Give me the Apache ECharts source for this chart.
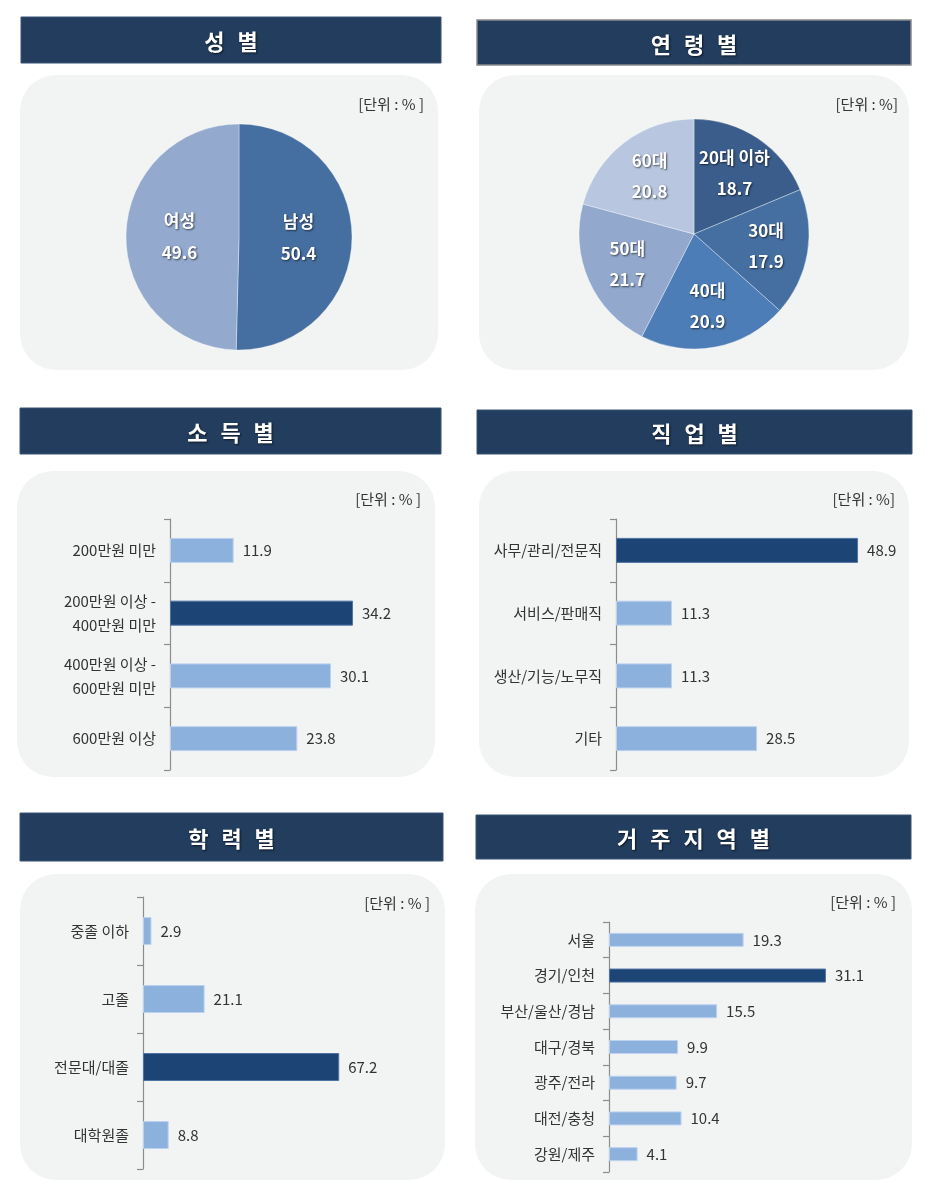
<!DOCTYPE html>
<html>
<head>
<meta charset="utf-8">
<script src="https://cdn.jsdelivr.net/npm/echarts@6/dist/echarts.min.js"></script>
<style>
html,body{margin:0;padding:0;background:#fff;}
#c{width:944px;height:1187px;}
</style>
</head>
<body>
<div id="c"></div>
<script>
// ---- data ----
const titleTexts = ['성 별', '연 령 별', '소 득 별', '직 업 별', '학 력 별', '거 주 지 역 별'];
const unitText = '[단위 : % ]';
const unitTextB = '[단위 : %]';

const genderCats = ['남성', '여성'];
const genderVals = [50.4, 49.6];

const ageCats = ['20대 이하', '30대', '40대', '50대', '60대'];
const ageVals = [18.7, 17.9, 20.9, 21.7, 20.8];

const incomeCats = ['200만원 미만', '200만원 이상 -\n400만원 미만', '400만원 이상 -\n600만원 미만', '600만원 이상'];
const incomeVals = [11.9, 34.2, 30.1, 23.8];

const jobCats = ['사무/관리/전문직', '서비스/판매직', '생산/기능/노무직', '기타'];
const jobVals = [48.9, 11.3, 11.3, 28.5];

const eduCats = ['중졸 이하', '고졸', '전문대/대졸', '대학원졸'];
const eduVals = [2.9, 21.1, 67.2, 8.8];

const regionCats = ['서울', '경기/인천', '부산/울산/경남', '대구/경북', '광주/전라', '대전/충청', '강원/제주'];
const regionVals = [19.3, 31.1, 15.5, 9.9, 9.7, 10.4, 4.1];

// ---- styles / layout ----
const FONT = "'Noto Sans CJK KR', 'Noto Sans', sans-serif";
const HEADER = '#223d5e';
const PANEL = '#f2f4f4';
const DARK = '#1c4576';
const LIGHT = '#8db1dd';

const headers = [
  {x: 21, y: 17, w: 420, h: 46},
  {x: 477, y: 20, w: 434, h: 45, stroke: '#8a8a8a'},
  {x: 20, y: 408, w: 421, h: 46},
  {x: 477, y: 410, w: 435, h: 44},
  {x: 20, y: 813, w: 423, h: 48},
  {x: 476, y: 815, w: 435, h: 44}
];
const panels = [
  {x: 20, y: 75, w: 418, h: 295},
  {x: 479, y: 75, w: 430, h: 295},
  {x: 17, y: 471, w: 418, h: 306},
  {x: 479, y: 471, w: 430, h: 306},
  {x: 20, y: 874, w: 425, h: 306},
  {x: 475, y: 874, w: 437, h: 306}
];
const units = [
  {x: 424, y: 104, t: unitText},
  {x: 898, y: 104, t: unitTextB},
  {x: 421, y: 499, t: unitText},
  {x: 895, y: 499, t: unitTextB},
  {x: 430, y: 903, t: unitText},
  {x: 896, y: 902, t: unitText}
];

const graphics = [];
panels.forEach(p => graphics.push({
  type: 'rect', z: -10, silent: true,
  shape: {x: p.x, y: p.y, width: p.w, height: p.h, r: 36},
  style: {fill: PANEL}
}));
headers.forEach((h, i) => {
  graphics.push({
    type: 'rect', z: -10, silent: true,
    shape: {x: h.x, y: h.y, width: h.w, height: h.h},
    style: {fill: HEADER, stroke: h.stroke || '#3b5577', lineWidth: h.stroke ? 1.5 : 1}
  });
  const chars = titleTexts[i].split(' ');
  graphics.push({
    type: 'text', z: 50, silent: true,
    x: h.x + h.w / 2, y: h.y + h.h / 2 + 2,
    style: {
      text: chars.map(c => '{h|' + c + '}').join(''),
      align: 'center', verticalAlign: 'middle',
      fill: '#fff',
      rich: {h: {fontSize: 22, fontWeight: 'bold', fontFamily: FONT, fill: '#fff', padding: [0, 6.5],
        textShadowColor: 'rgba(0,0,0,0.65)', textShadowBlur: 2, textShadowOffsetX: 1, textShadowOffsetY: 1}}
    }
  });
});
units.forEach(u => graphics.push({
  type: 'text', z: 50, silent: true, x: u.x, y: u.y,
  style: {text: u.t, align: 'right', verticalAlign: 'middle', fontSize: 15, fontFamily: FONT, fill: '#333'}
}));

// ---- bar charts ----
const bars = [
  {cats: incomeCats, vals: incomeVals, left: 170, top: 519, width: 214, height: 251, max: 40, bw: 25},
  {cats: jobCats, vals: jobVals, left: 616, top: 519, width: 247.5, height: 251, max: 50, bw: 25},
  {cats: eduCats, vals: eduVals, left: 143, top: 897, width: 233.6, height: 272, max: 80, bw: 28},
  {cats: regionCats, vals: regionVals, left: 609, top: 922, width: 279, height: 250, max: 40, bw: 14}
];

const grid = [], xAxis = [], yAxis = [], series = [];
bars.forEach((b, i) => {
  grid.push({left: b.left, top: b.top, width: b.width, height: b.height, containLabel: false});
  xAxis.push({gridIndex: i, type: 'value', min: 0, max: b.max, show: false});
  yAxis.push({
    gridIndex: i, type: 'category', data: b.cats, inverse: true,
    axisLine: {show: true, lineStyle: {color: '#8c8c8c', width: 1.2}},
    axisTick: {show: true, length: 6, lineStyle: {color: '#8c8c8c', width: 1.2}},
    axisLabel: {margin: 14, fontSize: 15, color: '#333', fontFamily: FONT, lineHeight: 24},
    splitLine: {show: false}
  });
  const mx = Math.max(...b.vals);
  series.push({
    type: 'bar', xAxisIndex: i, yAxisIndex: i, barWidth: b.bw,
    data: b.vals.map(v => ({
      value: v,
      itemStyle: v === mx
        ? {color: DARK, borderColor: '#4f74a3', borderWidth: 1}
        : {color: LIGHT, borderColor: '#bcd2ee', borderWidth: 1}
    })),
    label: {show: true, position: 'right', distance: 9, fontSize: 15, color: '#333', fontFamily: FONT,
      formatter: p => p.value.toFixed(1)}
  });
});

// ---- pies ----
const pieLabel = {
  show: true, position: 'inside', color: '#fff', fontSize: 17, fontWeight: 'bold', fontFamily: FONT,
  lineHeight: 31, textShadowColor: 'rgba(0,0,0,0.6)', textShadowBlur: 2, textShadowOffsetX: 1, textShadowOffsetY: 1,
  textBorderWidth: 0,
  formatter: p => p.name + '\n' + p.value.toFixed(1)
};
const genderColors = ['#466fa1', '#93a9cd'];
const ageColors = ['#3a5d8b', '#466fa1', '#4c7db6', '#92a8cd', '#b8c6df'];

series.push({
  type: 'pie', center: [239, 237], radius: [0, 113], startAngle: 90, clockwise: true,
  silent: true, emphasis: {disabled: true},
  itemStyle: {borderColor: 'rgba(255,255,255,0.35)', borderWidth: 1},
  label: Object.assign({}, pieLabel, {lineHeight: 32}), labelLine: {show: false},
  data: genderCats.map((n, i) => ({name: n, value: genderVals[i], itemStyle: {color: genderColors[i]}}))
});
series.push({
  type: 'pie', center: [694, 234], radius: [0, 115], startAngle: 90, clockwise: true,
  silent: true, emphasis: {disabled: true},
  itemStyle: {borderColor: 'rgba(255,255,255,0.35)', borderWidth: 1},
  label: {show: false}, labelLine: {show: false},
  data: ageCats.map((n, i) => ({name: n, value: ageVals[i], itemStyle: {color: ageColors[i]}}))
});
// label layer for age pie (labels placed further out)
series.push({
  type: 'pie', center: [694, 234], radius: [0, 140], startAngle: 90, clockwise: true,
  silent: true, emphasis: {disabled: true}, z: 5,
  itemStyle: {color: 'rgba(0,0,0,0)', borderWidth: 0},
  label: pieLabel, labelLine: {show: false},
  data: ageCats.map((n, i) => ({name: n, value: ageVals[i]}))
});

const chart = echarts.init(document.getElementById('c'), null, {renderer: 'canvas', width: 944, height: 1187});
chart.setOption({
  backgroundColor: '#ffffff',
  animation: false,
  textStyle: {fontFamily: FONT},
  graphic: {elements: graphics},
  grid, xAxis, yAxis, series
});
</script>
</body>
</html>
